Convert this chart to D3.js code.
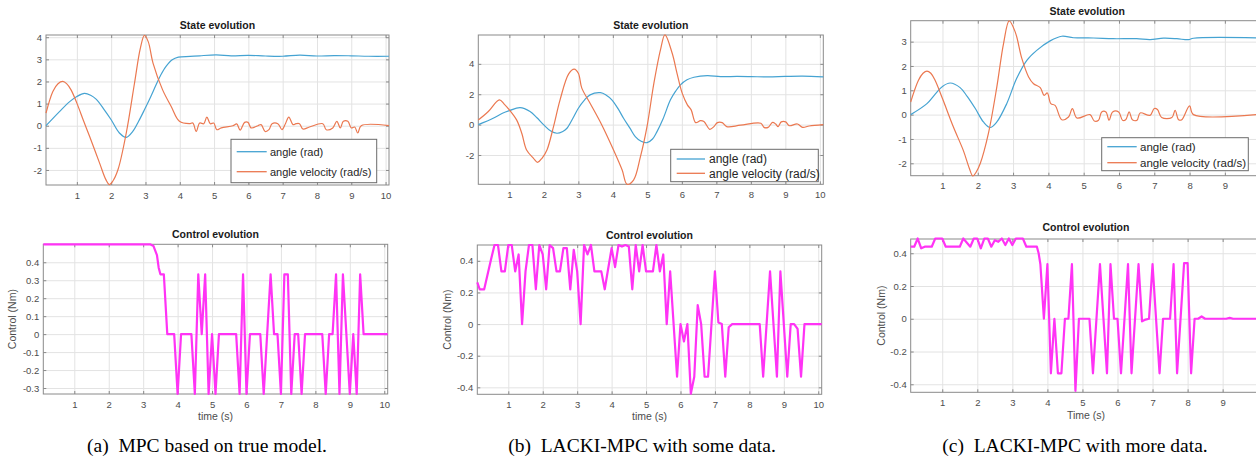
<!DOCTYPE html>
<html>
<head>
<meta charset="utf-8">
<script src="https://cdn.jsdelivr.net/npm/d3@7"></script>
<style>
  html, body { margin: 0; padding: 0; background: #fff; overflow: hidden; }
  svg { display: block; }
</style>
</head>
<body>
<svg id="fig" width="1256" height="458"></svg>
<script>
// ---- data: [time (s), value] ----
const angleA = [[0.1,0],[0.5,0.65],[0.8,1.1],[1.0,1.32],[1.22,1.46],[1.4,1.38],[1.56,1.2],[1.8,0.72],[2.0,0.27],[2.24,-0.33],[2.44,-0.53],[2.63,-0.26],[2.8,0.2],[2.97,0.72],[3.15,1.3],[3.31,1.85],[3.45,2.3],[3.6,2.68],[3.78,2.98],[3.96,3.1],[4.3,3.13],[4.58,3.16],[5.06,3.2],[5.5,3.16],[6.0,3.18],[6.5,3.15],[7.0,3.14],[7.5,3.19],[8.0,3.15],[8.5,3.17],[9.0,3.16],[9.5,3.14],[10.1,3.14]];
const velA = [[0.1,0.57],[0.3,1.55],[0.45,1.9],[0.59,2.0],[0.7,1.9],[0.83,1.62],[1.0,1.02],[1.2,0.2],[1.37,-0.48],[1.66,-1.68],[1.85,-2.45],[1.95,-2.66],[2.05,-2.5],[2.2,-1.98],[2.44,-0.33],[2.68,1.92],[2.85,3.5],[2.97,4.08],[3.08,3.8],[3.22,2.83],[3.5,1.62],[3.75,0.87],[3.99,0.2],[4.28,0.09],[4.38,0.12],[4.48,-0.26],[4.58,0.12],[4.7,0.09],[4.79,0.39],[4.89,0.09],[4.99,0.12],[5.08,-0.18],[5.21,-0.1],[5.55,0],[5.66,0.08],[5.76,-0.2],[5.89,0.15],[5.99,0.15],[6.08,-0.1],[6.28,0],[6.37,0.05],[6.49,-0.26],[6.6,-0.18],[6.69,0.09],[6.86,0.09],[6.98,-0.18],[7.08,0.09],[7.18,0.39],[7.3,0.05],[7.39,0.09],[7.49,0.09],[7.59,-0.15],[7.78,-0.06],[8.17,0.09],[8.27,-0.18],[8.46,-0.1],[8.58,0.2],[8.68,-0.1],[8.77,0.2],[8.9,0.2],[9.0,-0.1],[9.1,-0.06],[9.19,-0.33],[9.29,0],[10.1,0]];
const ctrlA = [[0.1,0.5],[3.2,0.5],[3.3,0.49],[3.4,0.44],[3.45,0.37],[3.5,0.333],[3.6,0.333],[3.7,0],[3.9,0],[4.0,-0.333],[4.1,0],[4.4,0],[4.5,-0.333],[4.6,0.333],[4.7,0],[4.8,0.333],[4.9,-0.333],[5.0,0],[5.1,-0.333],[5.2,0],[5.7,0],[5.8,-0.333],[5.9,0.333],[6.0,-0.333],[6.1,0],[6.4,0],[6.5,-0.333],[6.7,0.333],[6.8,0],[6.9,0],[7.0,-0.333],[7.1,0.333],[7.2,0.333],[7.3,-0.333],[7.4,0],[7.5,0],[7.6,-0.333],[7.7,0],[8.2,0],[8.3,-0.333],[8.4,0],[8.5,0],[8.6,0.333],[8.7,-0.333],[8.8,0.333],[9.0,-0.333],[9.1,0],[9.2,-0.333],[9.3,0.333],[9.4,0],[10.1,0]];

const angleB = [[0.1,0],[0.53,0.42],[0.8,0.75],[1.0,0.92],[1.31,1.12],[1.6,0.86],[1.8,0.45],[1.99,0],[2.2,-0.42],[2.38,-0.57],[2.55,-0.45],[2.67,-0.24],[2.85,0.45],[3.0,1.08],[3.17,1.6],[3.34,1.96],[3.64,2.1],[3.8,1.95],[3.97,1.63],[4.15,1.05],[4.31,0.42],[4.5,-0.25],[4.65,-0.79],[4.82,-1.1],[4.99,-1.19],[5.15,-0.95],[5.28,-0.46],[5.45,0.35],[5.67,1.63],[5.82,2.2],[5.96,2.62],[6.15,2.95],[6.35,3.12],[6.74,3.23],[7.12,3.16],[7.6,3.17],[8.0,3.16],[8.5,3.14],[9.0,3.17],[9.5,3.19],[10.1,3.14]];
const velB = [[0.1,0.3],[0.39,0.86],[0.71,1.63],[0.85,1.35],[1.0,0.97],[1.21,0.31],[1.36,-0.57],[1.5,-1.67],[1.7,-2.22],[1.82,-2.48],[1.95,-2.2],[2.09,-1.67],[2.28,-0.13],[2.47,1.63],[2.72,3.34],[2.88,3.65],[3.0,3.38],[3.1,2.4],[3.34,1.41],[3.68,-0.02],[4.02,-1.67],[4.27,-2.99],[4.41,-3.93],[4.6,-3.65],[4.8,-2.11],[4.99,-0.13],[5.19,2.73],[5.38,4.92],[5.51,5.91],[5.72,4.7],[5.86,3.38],[6.01,2.07],[6.16,1.3],[6.27,0.97],[6.4,0.13],[6.54,0.26],[6.64,0.2],[6.81,-0.31],[6.93,-0.13],[7.03,0.13],[7.17,0.13],[7.3,-0.13],[7.7,-0.04],[8.29,0.09],[8.38,-0.18],[8.5,-0.18],[8.63,0.15],[8.72,0.04],[8.79,-0.13],[8.88,0.18],[9.01,0.18],[9.11,-0.07],[9.35,0.04],[9.5,-0.18],[9.69,-0.09],[10.1,0]];
const ctrlB = [[0.1,0.263],[0.17,0.22],[0.3,0.22],[0.5,0.41],[0.6,0.5],[0.7,0.5],[0.8,0.333],[0.9,0.333],[1.0,0.5],[1.1,0.5],[1.2,0.333],[1.3,0.44],[1.4,0],[1.5,0.333],[1.6,0.5],[1.7,0.5],[1.8,0.22],[1.9,0.5],[2.0,0.44],[2.1,0.22],[2.2,0.5],[2.3,0.48],[2.4,0.333],[2.5,0.333],[2.6,0.48],[2.7,0.48],[2.8,0.22],[2.9,0.47],[3.0,0.333],[3.1,0],[3.2,0.5],[3.3,0.44],[3.4,0.5],[3.5,0.333],[3.7,0.333],[3.8,0.22],[4.0,0.48],[4.1,0.36],[4.2,0.5],[4.3,0.49],[4.4,0.5],[4.5,0.49],[4.6,0.22],[4.7,0.5],[4.8,0.333],[4.9,0.5],[5.0,0.333],[5.2,0.333],[5.3,0.5],[5.4,0.333],[5.5,0.44],[5.6,0],[5.7,0.333],[5.9,-0.333],[6.0,0],[6.1,-0.11],[6.2,0],[6.3,-0.44],[6.4,-0.333],[6.5,0.12],[6.6,0],[6.7,-0.333],[6.8,-0.333],[7.0,0.333],[7.1,0.01],[7.2,0],[7.3,-0.333],[7.4,-0.02],[7.5,0],[8.3,0],[8.4,-0.333],[8.6,0.333],[8.8,-0.333],[8.9,0.333],[9.1,-0.333],[9.2,0],[9.3,0],[9.4,-0.03],[9.5,-0.333],[9.6,0],[10.1,0]];

const angleC = [[0.1,0],[0.56,0.45],[0.8,0.85],[1.0,1.16],[1.22,1.3],[1.5,1.11],[1.7,0.75],[1.93,0.25],[2.16,-0.3],[2.35,-0.53],[2.54,-0.3],[2.82,0.45],[3.1,1.48],[3.39,2.23],[3.67,2.64],[4.05,3.03],[4.38,3.22],[4.71,3.16],[5.28,3.15],[5.84,3.12],[6.5,3.12],[6.88,3.08],[7.26,3.14],[7.64,3.12],[7.97,3.08],[8.11,3.14],[10.1,3.15]];
const velC = [[0.1,0.52],[0.32,1.41],[0.45,1.7],[0.56,1.79],[0.67,1.7],[0.79,1.41],[1.0,0.66],[1.31,-0.51],[1.59,-1.47],[1.76,-2.2],[1.86,-2.52],[1.96,-2.35],[2.07,-2.01],[2.3,-0.78],[2.54,1.14],[2.73,2.92],[2.89,3.85],[3.06,3.4],[3.25,2.3],[3.44,1.55],[3.58,1.27],[3.77,1.11],[3.88,0.79],[3.97,0.89],[4.07,0.45],[4.19,0.38],[4.38,-0.21],[4.57,-0.1],[4.68,0.25],[4.81,-0.14],[5.18,0],[5.3,-0.26],[5.42,-0.23],[5.51,0.11],[5.63,0.11],[5.72,-0.23],[5.82,0.11],[5.99,0.11],[6.1,-0.23],[6.19,-0.21],[6.29,0.11],[6.38,-0.21],[6.51,-0.23],[6.6,0.07],[6.88,-0.03],[7.0,0.25],[7.09,0.21],[7.21,-0.12],[7.5,-0.12],[7.59,0.18],[7.69,-0.21],[7.78,-0.21],[8.0,0.36],[8.11,0],[10.1,0.03]];
const ctrlC = [[0.1,0.44],[0.2,0.44],[0.3,0.49],[0.4,0.43],[0.5,0.44],[0.7,0.44],[0.8,0.49],[1.0,0.49],[1.1,0.44],[1.5,0.44],[1.6,0.49],[1.8,0.44],[1.9,0.49],[2.0,0.49],[2.1,0.43],[2.2,0.49],[2.3,0.49],[2.4,0.44],[2.5,0.48],[2.6,0.47],[2.7,0.49],[2.8,0.45],[2.9,0.49],[3.0,0.45],[3.1,0.49],[3.3,0.49],[3.4,0.44],[3.7,0.44],[3.75,0.4],[3.8,0.333],[3.9,0],[4.0,0.333],[4.1,-0.333],[4.2,0],[4.3,-0.333],[4.4,-0.333],[4.5,0],[4.6,0],[4.7,0.333],[4.8,-0.44],[4.9,0],[5.2,0],[5.3,-0.333],[5.5,0.333],[5.7,-0.333],[5.8,0.333],[5.9,0],[6.0,0],[6.1,-0.333],[6.3,0.333],[6.4,-0.333],[6.6,0.333],[6.7,-0.016],[6.8,-0.005],[6.9,0],[7.0,0.333],[7.2,-0.333],[7.3,0],[7.5,0],[7.6,0.333],[7.7,-0.333],[7.9,0.34],[8.0,0.34],[8.1,-0.333],[8.2,0],[8.3,0],[8.4,0.014],[8.5,0],[9.1,0],[9.2,0.005],[9.3,0],[10.1,0]];

// ---- axis ranges and tick labels ----
const timeDomain = [0.1, 10.1];
const timeTicks = [1, 2, 3, 4, 5, 6, 7, 8, 9, 10];
const timeTicksC = [1, 2, 3, 4, 5, 6, 7, 8, 9];   // 10 falls outside the cropped figure
const stateDomainA = [-2.68, 4.1], stateTicksA = [-2, -1, 0, 1, 2, 3, 4];
const stateDomainB = [-3.93, 5.9], stateTicksB = [-2, 0, 2, 4];
const stateDomainC = [-2.51, 3.86], stateTicksC = [-2, -1, 0, 1, 2, 3];
const ctrlDomainA = [-0.3333, 0.5], ctrlTicksA = [-0.3, -0.2, -0.1, 0, 0.1, 0.2, 0.3, 0.4];
const ctrlDomainB = [-0.444, 0.5], ctrlTicksB = [-0.4, -0.2, 0, 0.2, 0.4];
const ctrlDomainC = [-0.449, 0.487], ctrlTicksC = [-0.4, -0.2, 0, 0.2, 0.4];
const legendLabels = ['angle (rad)', 'angle velocity (rad/s)'];
const captions = ['(a)  MPC based on true model.', '(b)  LACKI-MPC with some data.', '(c)  LACKI-MPC with more data.'];
const timeLabels = ['time (s)', 'time (s)', 'Time (s)'];

const BLUE = '#45a3d2', ORANGE = '#eb7850', MAGENTA = '#ff33f5';
const SANS = '"Liberation Sans", Arial, sans-serif';

const panels = [
  {
    state: { box: [46, 35, 389, 185], domain: stateDomainA, ticks: stateTicksA, xticks: timeTicks, titleY: 29,
             lines: [angleA, velA],
             legend: { box: [231, 139.3, 376.7, 182.7], rows: [151.7, 171.7], line: [236.7, 266.7], textX: 270, fs: 11 } },
    control: { box: [43.3, 244.3, 387.7, 394], domain: ctrlDomainA, ticks: ctrlTicksA, xticks: timeTicks, titleY: 238,
               line: ctrlA, ylabelX: 16, xlabelY: 420 },
    caption: { x: 207, y: 452 }, xlabel: timeLabels[0], text: captions[0]
  },
  {
    state: { box: [478.3, 35, 823.3, 184.3], domain: stateDomainB, ticks: stateTicksB, xticks: timeTicks, titleY: 29,
             lines: [angleB, velB],
             legend: { box: [670.7, 149.3, 818.3, 181.7], rows: [159, 173.3], line: [676.7, 705], textX: 709, fs: 12 } },
    control: { box: [477.3, 245, 821.7, 394.3], domain: ctrlDomainB, ticks: ctrlTicksB, xticks: timeTicks, titleY: 238.5,
               line: ctrlB, ylabelX: 451, xlabelY: 420 },
    caption: { x: 642, y: 452 }, xlabel: timeLabels[1], text: captions[1]
  },
  {
    state: { box: [910.7, 20.7, 1263.7, 175.7], domain: stateDomainC, ticks: stateTicksC, xticks: timeTicksC, titleY: 14.5,
             lines: [angleC, velC],
             legend: { box: [1101.7, 137.7, 1248.3, 170.7], rows: [146.7, 162.7], line: [1107.3, 1136.7], textX: 1140, fs: 11.5 } },
    control: { box: [910.7, 239, 1261.2, 392.3], domain: ctrlDomainC, ticks: ctrlTicksC, xticks: timeTicksC, titleY: 231,
               line: ctrlC, ylabelX: 884.5, xlabelY: 418.5 },
    caption: { x: 1075, y: 452 }, xlabel: timeLabels[2], text: captions[2]
  }
];

const svg = d3.select('#fig');

const fmt = d => (Math.abs(d) < 1e-9 ? '0' : String(+d.toFixed(2)));

function drawAxes(cfg, title) {
  const [x0, y0, x1, y1] = cfg.box;
  const x = d3.scaleLinear().domain(timeDomain).range([x0, x1]);
  const y = d3.scaleLinear().domain(cfg.domain).range([y1, y0]);
  const g = svg.append('g');

  g.append('rect')
    .attr('x', x0).attr('y', y0).attr('width', x1 - x0).attr('height', y1 - y0)
    .attr('fill', '#fff');

  // grid
  g.append('g').attr('transform', `translate(0,${y1})`)
    .call(d3.axisBottom(x).tickValues(cfg.xticks).tickSize(-(y1 - y0)).tickFormat(''))
    .call(s => s.select('.domain').remove())
    .selectAll('line').attr('stroke', '#e3e3e3');
  g.append('g').attr('transform', `translate(${x0},0)`)
    .call(d3.axisLeft(y).tickValues(cfg.ticks).tickSize(-(x1 - x0)).tickFormat(''))
    .call(s => s.select('.domain').remove())
    .selectAll('line').attr('stroke', '#e3e3e3');

  // labelled axes with inward ticks
  const bottom = g.append('g').attr('transform', `translate(0,${y1})`)
    .call(d3.axisBottom(x).tickValues(cfg.xticks).tickSizeInner(-3).tickSizeOuter(0).tickPadding(7));
  const left = g.append('g').attr('transform', `translate(${x0},0)`)
    .call(d3.axisLeft(y).tickValues(cfg.ticks).tickSizeInner(-3).tickSizeOuter(0).tickPadding(4).tickFormat(fmt));
  g.append('g').attr('transform', `translate(0,${y0})`)
    .call(d3.axisTop(x).tickValues(cfg.xticks).tickSizeInner(-3).tickSizeOuter(0).tickFormat(''));
  g.append('g').attr('transform', `translate(${x1},0)`)
    .call(d3.axisRight(y).tickValues(cfg.ticks).tickSizeInner(-3).tickSizeOuter(0).tickFormat(''));

  g.selectAll('.domain').remove();
  g.selectAll('.tick line').filter(function () { return this.getAttribute('stroke') === 'currentColor'; })
    .attr('stroke', '#8a8a8a');
  [bottom, left].forEach(a => a.selectAll('text')
    .attr('fill', '#4d4d4d').attr('font-size', '9.5px').attr('font-family', SANS));

  g.append('rect')
    .attr('x', x0).attr('y', y0).attr('width', x1 - x0).attr('height', y1 - y0)
    .attr('fill', 'none').attr('stroke', '#8a8a8a').attr('stroke-width', 1);

  svg.append('text')
    .attr('x', (x0 + x1) / 2).attr('y', cfg.titleY)
    .attr('text-anchor', 'middle')
    .attr('font-family', SANS).attr('font-size', '10.5px').attr('font-weight', 'bold')
    .attr('fill', '#1a1a1a')
    .text(title);

  return { x, y, g };
}

panels.forEach(p => {
  // state evolution
  const st = drawAxes(p.state, 'State evolution');
  const smooth = d3.line().x(d => st.x(d[0])).y(d => st.y(d[1])).curve(d3.curveCatmullRom.alpha(0.5));
  [BLUE, ORANGE].forEach((c, i) => {
    svg.append('path').datum(p.state.lines[i])
      .attr('d', smooth)
      .attr('fill', 'none').attr('stroke', c).attr('stroke-width', 1.2);
  });

  const lg = p.state.legend;
  svg.append('rect')
    .attr('x', lg.box[0]).attr('y', lg.box[1])
    .attr('width', lg.box[2] - lg.box[0]).attr('height', lg.box[3] - lg.box[1])
    .attr('fill', '#fff').attr('stroke', '#6b6b6b').attr('stroke-width', 1);
  [BLUE, ORANGE].forEach((c, i) => {
    svg.append('line')
      .attr('x1', lg.line[0]).attr('x2', lg.line[1])
      .attr('y1', lg.rows[i]).attr('y2', lg.rows[i])
      .attr('stroke', c).attr('stroke-width', 1.3);
    svg.append('text')
      .attr('x', lg.textX).attr('y', lg.rows[i]).attr('dy', '0.35em')
      .attr('font-family', SANS).attr('font-size', lg.fs + 'px').attr('fill', '#262626')
      .text(legendLabels[i]);
  });

  // control evolution
  const ct = drawAxes(p.control, 'Control evolution');
  svg.append('path').datum(p.control.line)
    .attr('d', d3.line().x(d => ct.x(d[0])).y(d => ct.y(d[1])))
    .attr('fill', 'none').attr('stroke', MAGENTA).attr('stroke-width', 2.2)
    .attr('stroke-linejoin', 'round');

  const [cx0, cy0, cx1, cy1] = p.control.box;
  svg.append('text')
    .attr('x', (cx0 + cx1) / 2).attr('y', p.control.xlabelY)
    .attr('text-anchor', 'middle')
    .attr('font-family', SANS).attr('font-size', '10.5px').attr('fill', '#4d4d4d')
    .text(p.xlabel);
  svg.append('text')
    .attr('transform', `translate(${p.control.ylabelX},${(cy0 + cy1) / 2}) rotate(-90)`)
    .attr('text-anchor', 'middle')
    .attr('font-family', SANS).attr('font-size', '10.5px').attr('fill', '#4d4d4d')
    .text('Control (Nm)');

  svg.append('text')
    .attr('x', p.caption.x).attr('y', p.caption.y)
    .attr('text-anchor', 'middle')
    .attr('font-family', '"Liberation Serif", "Times New Roman", serif')
    .attr('font-size', '19.5px').attr('fill', '#000')
    .attr('xml:space', 'preserve')
    .text(p.text);
});
</script>
</body>
</html>
